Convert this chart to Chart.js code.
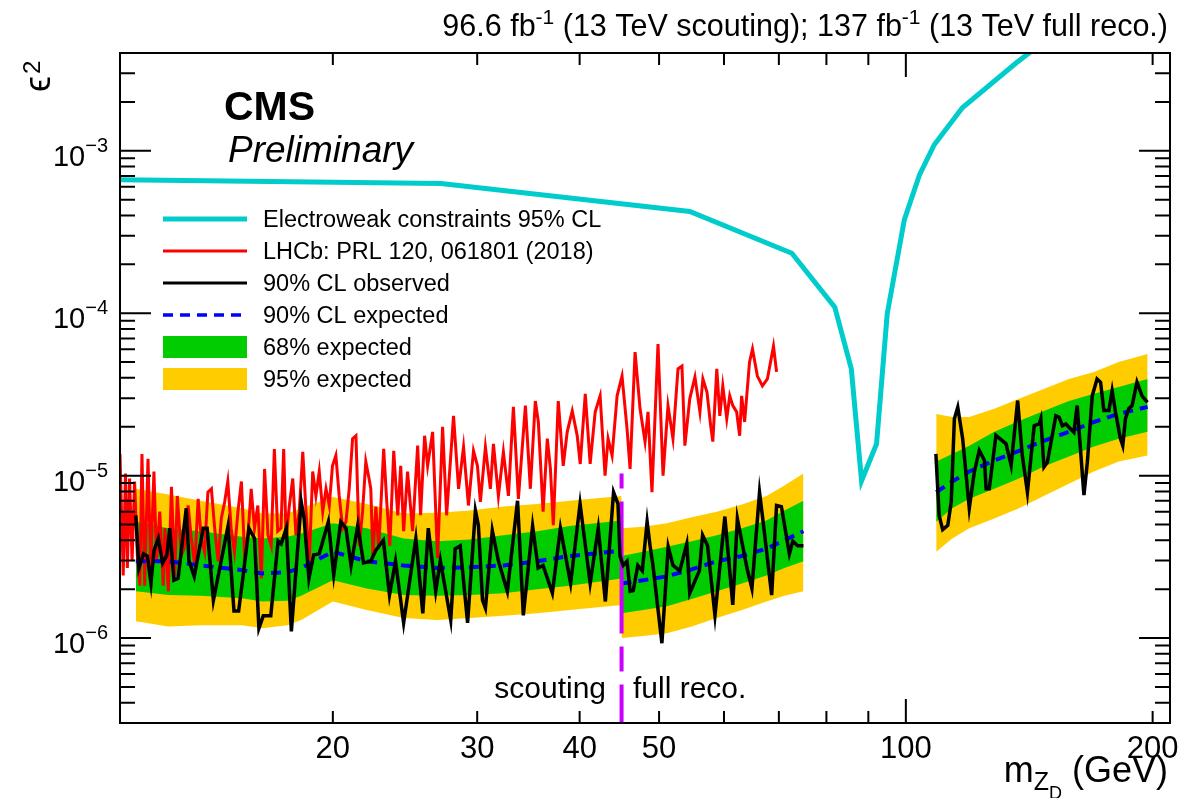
<!DOCTYPE html>
<html>
<head>
<meta charset="utf-8">
<title>Dark photon epsilon^2 limits</title>
<script src="https://cdn.jsdelivr.net/npm/chart.js@4.4.0/dist/chart.umd.min.js"></script>
<style>
html,body{margin:0;padding:0;background:#fff;}
canvas{display:block;}
</style>
</head>
<body>
<canvas id="c" width="1195" height="798"></canvas>
<script>
// axis ranges
const X_MIN = 11, X_MAX = 210, Y_MIN = 3e-7, Y_MAX = 4e-3;

// electroweak constraints 95% CL
const ewMass = [11, 27.1, 54.5, 72.6, 81.9, 85.8, 88.3, 92.1, 94.9, 99.6, 103.9, 108.3, 117.2, 136.3, 141.3, 150];
const ewEps2 = [6.64e-4, 6.28e-4, 4.23e-4, 2.34e-4, 1.09e-4, 4.54e-5, 9.3e-6, 1.57e-5, 9.9e-5, 3.78e-4, 7.1e-4, 1.09e-3, 1.84e-3, 3.47e-3, 4.0e-3, 5.0e-3];

// LHCb PRL 120, 061801
const lhcbMass = [
  11.0, 11.1, 11.17, 11.23, 11.3, 11.38, 11.46, 11.55, 11.63, 11.7,
  11.79, 11.9, 11.99, 12.1, 12.19, 12.3, 12.42, 12.48, 12.6, 12.71,
  12.83, 12.92, 13.07, 13.17, 13.32, 13.44, 13.57, 13.7, 13.82, 13.95,
  14.08, 14.22, 14.35, 14.49, 14.62, 14.76, 14.89, 15.03, 15.17, 15.32,
  15.47, 15.61, 15.76, 15.9, 16.05, 16.2, 16.36, 16.51, 16.67, 16.82,
  16.97, 17.13, 17.29, 17.42, 17.54, 17.7, 17.87, 18.03, 18.2, 18.38,
  18.55, 18.72, 18.9, 19.07, 19.25, 19.44, 19.62, 19.8, 19.98, 20.17,
  20.36, 20.56, 20.75, 20.94, 21.14, 21.34, 21.54, 21.74, 21.94, 22.14,
  22.25, 22.38, 22.57, 22.75, 23.07, 23.27, 23.47, 23.73, 24.0, 24.2,
  24.4, 24.67, 25.02, 25.38, 25.59, 25.88, 26.1, 26.47, 26.84, 27.22,
  27.53, 28.07, 28.47, 28.87, 29.27, 29.69, 30.02, 30.27, 30.7, 31.13,
  31.4, 31.84, 32.29, 32.75, 33.21, 33.68,
  34.35, 34.83, 35.32, 35.62, 36.1, 36.53, 36.85, 37.15, 37.67, 38.2,
  38.63, 39.18, 39.73, 40.07, 40.64, 41.2, 41.79, 42.37, 42.96, 43.33,
  43.82, 44.44, 45.06, 45.7, 46.09, 46.74, 47.4, 48.07, 48.47, 49.01,
  49.85, 50.56, 51.27, 51.99, 52.73, 53.32, 53.76,
  54.5, 55.3, 56.08, 56.55, 57.2, 57.8, 58.15, 58.8, 59.3, 59.8,
  60.47, 60.98, 61.5, 62.17, 62.7, 63.05, 63.58, 64.46, 65.0, 65.9,
  66.84, 67.78, 68.95, 69.55
];
const lhcbEps2 = [
  1.36e-5, 2.43e-6, 1.03e-5, 2.7e-6, 9.6e-6, 2.97e-6, 9.2e-6, 3.23e-6, 2.1e-6, 1.36e-5,
  2.1e-6, 1.27e-5, 2.7e-6, 1.06e-5, 2.97e-6, 6.0e-6, 2.1e-6, 4.75e-6, 1.94e-6, 8.55e-6,
  2.43e-6, 7.5e-6, 3.23e-6, 3.55e-6, 6.55e-6, 4.1e-6, 2.8e-6, 7.2e-6, 4.1e-6, 3.4e-6,
  7.9e-6, 8.3e-6, 4.75e-6, 2.97e-6, 5.45e-6, 6.9e-6, 9.2e-6, 4.75e-6, 3.4e-6, 6.0e-6,
  9.2e-6, 3.23e-6, 4.3e-6, 8.3e-6, 4.75e-6, 6.55e-6, 2.33e-6, 1.1e-5, 4.3e-6, 3.7e-6,
  1.46e-5, 4.55e-6, 4.75e-6, 1.46e-5, 4.1e-6, 6.55e-6, 9.6e-6, 4.3e-6, 6.0e-6, 1.4e-5,
  6.0e-6, 2.97e-6, 1.06e-5, 7.5e-6, 1.06e-5, 6.0e-6, 8.3e-6, 6.55e-6, 1.15e-5, 1.33e-5,
  7.5e-6, 4.75e-6, 5.2e-6, 8.3e-6, 1.69e-5, 1.76e-5, 3.7e-6, 6.0e-6, 1.22e-5, 9.6e-6,
  8.3e-6, 3.23e-6, 6.45e-6, 3.55e-6, 1.46e-5, 6.9e-6, 3.7e-6, 1.42e-5, 5.7e-6, 1.15e-5,
  4.55e-6, 1.06e-5, 4.55e-6, 1.53e-5, 5.7e-6, 1.76e-5, 1.15e-5, 1.86e-5, 3.1e-6, 2.0e-5,
  5.7e-6, 2.33e-5, 8.3e-6, 1.5e-5, 6.55e-6, 1.42e-5, 1.15e-5, 6.9e-6, 1.5e-5, 8.3e-6,
  1.57e-5, 7.5e-6, 1.4e-5, 7.5e-6, 2.65e-5, 7.2e-6,
  2.7e-5, 8.3e-6, 2.88e-5, 2.14e-5, 6.0e-6, 1.69e-5, 1.1e-5, 4.95e-6, 2.88e-5, 1.15e-5,
  1.86e-5, 2.5e-5, 1.76e-5, 1.18e-5, 3.19e-5, 1.18e-5, 2.47e-5, 3.1e-5, 1.0e-5, 1.69e-5,
  1.33e-5, 3.1e-5, 4.1e-5, 1.94e-5, 1.1e-5, 5.76e-5, 2.58e-5, 1.62e-5, 2.47e-5, 7.9e-6,
  6.46e-5, 1.0e-5, 2.7e-5, 1.69e-5, 4.54e-5, 4.73e-5, 1.53e-5,
  2.97e-5, 4.05e-5, 2.47e-5, 3.94e-5, 3.27e-5, 2.03e-5, 1.62e-5, 4.54e-5, 2.33e-5, 3.57e-5,
  2.24e-5, 3.1e-5, 2.7e-5, 2.47e-5, 1.76e-5, 3.1e-5, 2.14e-5, 5.0e-5, 6.02e-5, 4.1e-5,
  3.57e-5, 3.94e-5, 6.27e-5, 4.35e-5
];

// 90% CL observed, scouting + full reco. (low mass)
const obsLowMass = [
  11.5, 11.6, 11.75, 11.88, 12.0, 12.1, 12.25, 12.4, 12.55, 12.65,
  12.8, 12.95, 13.25, 13.35, 13.55, 13.9, 14.05, 14.3, 14.9, 15.15,
  15.35, 15.55, 15.8, 16.05, 16.25, 16.45, 16.8, 17.15, 17.3, 17.55,
  17.8, 18.3, 18.45, 18.7, 18.95, 19.25, 19.75, 20.05, 20.45, 20.75,
  21.05, 21.45, 21.8, 22.25, 22.55, 23.05, 23.45, 23.85, 24.4, 25.25,
  25.75, 26.15, 26.7, 27.05, 27.85, 28.2, 28.6, 29.2, 29.85, 30.1,
  30.45, 30.7, 31.3, 31.85, 32.65, 33.6, 34.15, 35.05, 35.6, 36.1,
  37.05, 37.9, 39.0, 40.05, 41.2, 42.15, 43.0, 44.0, 44.55, 44.8,
  45.2, 45.7, 46.1, 46.5, 47.1, 47.7, 48.35, 48.75, 49.15, 50.4,
  51.3, 52.0, 53.0, 54.05, 54.5, 56.0, 56.5, 57.3, 58.5, 60.15,
  61.5, 62.3, 64.0, 64.9, 66.3, 66.9, 68.6, 69.55, 70.5, 72.1,
  72.8, 73.8, 75
];
const obsLowEps2 = [
  5.7e-6, 2.7e-6, 3.3e-6, 3.2e-6, 2.17e-6, 3.45e-6, 4.1e-6, 2.9e-6, 3.25e-6, 4.75e-6,
  2.27e-6, 2.33e-6, 6.3e-6, 3.0e-6, 2.4e-6, 4.75e-6, 4.75e-6, 1.71e-6, 4.9e-6, 1.47e-6,
  1.47e-6, 2.45e-6, 4.75e-6, 4.1e-6, 1.15e-6, 1.37e-6, 1.37e-6, 3.95e-6, 3.8e-6, 4.75e-6,
  1.1e-6, 6.9e-6, 5.45e-6, 2.33e-6, 3.25e-6, 3.3e-6, 5.2e-6, 2.45e-6, 5.2e-6, 4.75e-6,
  2.8e-6, 4.95e-6, 2.9e-6, 2.97e-6, 3.45e-6, 4.0e-6, 1.84e-6, 2.97e-6, 1.24e-6, 4.1e-6,
  1.42e-6, 4.75e-6, 1.94e-6, 3.0e-6, 1.29e-6, 3.55e-6, 3.7e-6, 1.24e-6, 6.1e-6, 4.95e-6,
  1.71e-6, 1.53e-6, 4.6e-6, 2.97e-6, 1.94e-6, 7.0e-6, 1.38e-6, 4.9e-6, 2.7e-6, 2.8e-6,
  1.89e-6, 4.75e-6, 2.17e-6, 6.7e-6, 2.17e-6, 4.75e-6, 1.68e-6, 7.9e-6, 6.7e-6, 3.2e-6,
  2.8e-6, 2.97e-6, 1.94e-6, 1.96e-6, 2.8e-6, 2.6e-6, 5.2e-6, 3.7e-6, 2.8e-6, 9.3e-7,
  3.65e-6, 2.8e-6, 2.6e-6, 3.8e-6, 1.89e-6, 2.6e-6, 4.3e-6, 3.7e-6, 1.38e-6, 5.6e-6,
  1.6e-6, 5.45e-6, 2.7e-6, 2.02e-6, 7.9e-6, 5.45e-6, 1.84e-6, 6.55e-6, 6.45e-6, 3.3e-6,
  3.95e-6, 3.7e-6, 3.7e-6
];

// 90% CL observed, high mass
const obsHighMass = [
  108.8, 109.8, 110.9, 112.5, 113.6, 114.6, 115.7, 117.3, 119.5, 121.2,
  122.9, 124.7, 125.3, 126.4, 128.8, 132.5, 134.4, 136.9, 138.7, 140.7,
  143.4, 145.4, 146.1, 147.4, 148.8, 152.4, 153.8, 155.2, 156.7, 160.3,
  161.8, 164.9, 166.5, 168.8, 171.1, 172.8, 174.4, 176.9, 178.5, 180.2,
  182.7, 183.9, 185.3, 187.0, 188.8, 191.4, 194.1, 197.1
];
const obsHighEps2 = [
  1.36e-5, 5.7e-6, 4.65e-6, 4.95e-6, 6.9e-6, 2.24e-5, 2.64e-5, 1.69e-5, 6.3e-6, 1.05e-5,
  1.43e-5, 1.24e-5, 8.3e-6, 8.3e-6, 1.77e-5, 1.57e-5, 1.16e-5, 2.9e-5, 1.33e-5, 7.9e-6,
  2.03e-5, 2.08e-5, 2.24e-5, 1.13e-5, 1.21e-5, 2.34e-5, 2.29e-5, 2.03e-5, 2.08e-5, 1.85e-5,
  2.7e-5, 7.6e-6, 1.21e-5, 3.1e-5, 3.94e-5, 3.76e-5, 2.52e-5, 2.52e-5, 3.33e-5, 2.46e-5,
  1.69e-5, 1.53e-5, 2.24e-5, 2.58e-5, 2.7e-5, 3.76e-5, 3.1e-5, 2.83e-5
];

// expected limit and bands: scouting
const scoutMass = [11.5, 12.6, 13.8, 15.5, 16.4, 17.6, 18.3, 20, 22, 24.4, 26.8, 29.4, 32.3, 35.5, 38.9, 45];
const scoutExp  = [2.97e-6, 2.97e-6, 2.8e-6, 2.62e-6, 2.5e-6, 2.55e-6, 2.7e-6, 3.4e-6, 2.97e-6, 2.8e-6, 2.7e-6, 2.73e-6, 2.8e-6, 2.97e-6, 3.2e-6, 3.45e-6];
const scout68Lo = [1.94e-6, 1.84e-6, 1.82e-6, 1.76e-6, 1.68e-6, 1.7e-6, 1.82e-6, 2.27e-6, 2.02e-6, 1.84e-6, 1.82e-6, 1.84e-6, 1.89e-6, 2.0e-6, 2.1e-6, 2.33e-6];
const scout68Hi = [5.2e-6, 4.75e-6, 4.55e-6, 4.2e-6, 4.1e-6, 4.2e-6, 4.4e-6, 5.1e-6, 4.75e-6, 4.1e-6, 3.95e-6, 4.05e-6, 4.3e-6, 4.55e-6, 4.9e-6, 5.3e-6];
const scout95Lo = [1.27e-6, 1.18e-6, 1.2e-6, 1.2e-6, 1.15e-6, 1.2e-6, 1.29e-6, 1.68e-6, 1.49e-6, 1.33e-6, 1.29e-6, 1.33e-6, 1.37e-6, 1.42e-6, 1.49e-6, 1.6e-6];
const scout95Hi = [8.3e-6, 7.65e-6, 7.0e-6, 6.3e-6, 5.85e-6, 5.85e-6, 6.3e-6, 7.4e-6, 6.7e-6, 5.85e-6, 5.9e-6, 6.1e-6, 6.45e-6, 6.7e-6, 7.0e-6, 7.5e-6];

// expected limit and bands: full reco. below the Z
const fullMass = [45, 47.8, 51.1, 54.8, 58.8, 63.1, 67.6, 71.1, 75];
const fullExp  = [2.17e-6, 2.27e-6, 2.4e-6, 2.65e-6, 2.97e-6, 3.2e-6, 3.55e-6, 4.0e-6, 4.55e-6];
const full68Lo = [1.42e-6, 1.49e-6, 1.57e-6, 1.74e-6, 1.94e-6, 2.17e-6, 2.43e-6, 2.7e-6, 2.97e-6];
const full68Hi = [3.2e-6, 3.4e-6, 3.65e-6, 3.95e-6, 4.3e-6, 4.75e-6, 5.3e-6, 6.1e-6, 7.0e-6];
const full95Lo = [1.0e-6, 1.03e-6, 1.07e-6, 1.18e-6, 1.33e-6, 1.49e-6, 1.68e-6, 1.82e-6, 1.94e-6];
const full95Hi = [4.75e-6, 4.85e-6, 5.1e-6, 5.55e-6, 6.0e-6, 6.65e-6, 7.5e-6, 8.7e-6, 1.03e-5];

// expected limit and bands: full reco. above the Z
const highMass = [108.9, 113.9, 119.5, 128.2, 137.4, 147.3, 158.1, 169.6, 181.8, 197.2];
const highExp  = [7.9e-6, 9.2e-6, 1.06e-5, 1.24e-5, 1.42e-5, 1.64e-5, 1.86e-5, 2.14e-5, 2.4e-5, 2.65e-5];
const high68Lo = [5.2e-6, 6.3e-6, 7.2e-6, 8.3e-6, 9.6e-6, 1.14e-5, 1.31e-5, 1.51e-5, 1.69e-5, 1.86e-5];
const high68Hi = [1.22e-5, 1.36e-5, 1.53e-5, 1.86e-5, 2.17e-5, 2.5e-5, 2.88e-5, 3.19e-5, 3.51e-5, 3.94e-5];
const high95Lo = [3.4e-6, 4.1e-6, 4.75e-6, 5.45e-6, 6.3e-6, 7.5e-6, 8.9e-6, 1.06e-5, 1.22e-5, 1.33e-5];
const high95Hi = [2.4e-5, 2.3e-5, 2.3e-5, 2.58e-5, 2.97e-5, 3.42e-5, 3.94e-5, 4.35e-5, 5.0e-5, 5.61e-5];

// scouting / full reco. boundary
const boundaryMass = [45, 45];
const boundaryEps2 = [1.03e-5, 3e-7];

// ticks and labels
const xTickMinor = [20, 30, 40, 50, 60, 70, 80, 90, 200];
const xTickMajor = [100];
const xTickLabels = [20, 30, 40, 50, 100, 200];
const yDecades = [-6, -5, -4, -3];
const legendLabels = ['Electroweak constraints 95% CL', 'LHCb: PRL 120, 061801 (2018)', '90% CL observed', '90% CL expected', '68% expected', '95% expected'];
const regionLabels = ['scouting', 'full reco.'];

const FONT = '"Liberation Sans", Arial, Helvetica, sans-serif';
const CYAN = '#00cccc', RED = '#ff0000', BLUE = '#0000ff', GREEN = '#00cc00', YELLOW = '#ffcc00', MAGENTA = '#cc00ff';

const pts = (xs, ys) => xs.map((m, i) => ({ x: m, y: ys[i] }));
const datasets = [];
function band(xs, lo, hi, color, order) {
  datasets.push({ data: pts(xs, lo), borderWidth: 0, borderColor: 'rgba(0,0,0,0)', pointRadius: 0, fill: false, order });
  datasets.push({ data: pts(xs, hi), borderWidth: 0, borderColor: 'rgba(0,0,0,0)', backgroundColor: color, pointRadius: 0, fill: '-1', order });
}
function line(xs, ys, color, width, order, extra) {
  datasets.push(Object.assign({ data: pts(xs, ys), borderColor: color, borderWidth: width, pointRadius: 0, fill: false, order, clip: 0 }, extra || {}));
}
band(scoutMass, scout95Lo, scout95Hi, YELLOW, 10);
band(fullMass, full95Lo, full95Hi, YELLOW, 10);
band(highMass, high95Lo, high95Hi, YELLOW, 10);
band(scoutMass, scout68Lo, scout68Hi, GREEN, 9);
band(fullMass, full68Lo, full68Hi, GREEN, 9);
band(highMass, high68Lo, high68Hi, GREEN, 9);
line(ewMass, ewEps2, CYAN, 5, 5);
line(lhcbMass, lhcbEps2, RED, 3, 4);
line(scoutMass, scoutExp, BLUE, 4, 3, { borderDash: [10, 7] });
line(fullMass, fullExp, BLUE, 4, 3, { borderDash: [10, 7] });
line(highMass, highExp, BLUE, 4, 3, { borderDash: [10, 7] });
line(boundaryMass, boundaryEps2, MAGENTA, 4, 2, { borderDash: [25, 13, 132, 13], borderDashOffset: 10 });
line(obsLowMass, obsLowEps2, '#000', 3.5, 1);
line(obsHighMass, obsHighEps2, '#000', 3.5, 1);

function rich(ctx, parts, x, y, align) {
  let w = 0;
  parts.forEach(p => { ctx.font = (p[3] || '') + ' ' + p[1] + 'px ' + FONT; w += ctx.measureText(p[0]).width; });
  let cx = align === 'right' ? x - w : (align === 'center' ? x - w / 2 : x);
  ctx.textAlign = 'left';
  ctx.textBaseline = 'alphabetic';
  parts.forEach(p => {
    ctx.font = (p[3] || '') + ' ' + p[1] + 'px ' + FONT;
    ctx.fillText(p[0], cx, y + p[2]);
    cx += ctx.measureText(p[0]).width;
  });
}

const rootFrame = {
  id: 'rootFrame',
  afterDraw(chart) {
    const { ctx, chartArea: a } = chart;
    const xs = chart.scales.x, ys = chart.scales.y;
    ctx.save();
    ctx.strokeStyle = '#000';
    ctx.fillStyle = '#000';
    ctx.lineWidth = 2;
    ctx.setLineDash([]);
    ctx.beginPath();
    const seg = (x1, y1, x2, y2) => { ctx.moveTo(x1, y1); ctx.lineTo(x2, y2); };
    xTickMinor.forEach(v => { const p = xs.getPixelForValue(v); seg(p, a.bottom, p, a.bottom - 12); seg(p, a.top, p, a.top + 12); });
    xTickMajor.forEach(v => { const p = xs.getPixelForValue(v); seg(p, a.bottom, p, a.bottom - 24); seg(p, a.top, p, a.top + 24); });
    yDecades.forEach(e => { const p = ys.getPixelForValue(Math.pow(10, e)); seg(a.left, p, a.left + 31, p); seg(a.right, p, a.right - 31, p); });
    for (let e = -7; e <= -3; e++) {
      for (let m = 2; m <= 9; m++) {
        const v = m * Math.pow(10, e);
        if (v <= Y_MIN * 1.001 || v >= Y_MAX * 0.999) continue;
        const p = ys.getPixelForValue(v);
        seg(a.left, p, a.left + 15, p);
        seg(a.right, p, a.right - 15, p);
      }
    }
    ctx.stroke();
    ctx.strokeRect(a.left, a.top, a.right - a.left, a.bottom - a.top);

    // tick labels
    ctx.font = '31px ' + FONT;
    ctx.textAlign = 'center';
    ctx.textBaseline = 'alphabetic';
    xTickLabels.forEach(v => ctx.fillText(String(v), xs.getPixelForValue(v), 758));
    yDecades.forEach(e => {
      const p = ys.getPixelForValue(Math.pow(10, e));
      rich(ctx, [['10', 29, 0], ['\u2212' + Math.abs(e), 20, -14]], 108, p + 15, 'right');
    });

    // axis titles
    rich(ctx, [['m', 36, 0], ['Z', 25, 8], ['D', 18, 17], [' (GeV)', 36, 0]], 1168, 782, 'right');
    ctx.save();
    ctx.translate(50, 92);
    ctx.rotate(-Math.PI / 2);
    ctx.font = '36px ' + FONT;
    ctx.textAlign = 'left';
    ctx.fillText('\u03f5', 0, 0);
    const ew = ctx.measureText('\u03f5').width;
    ctx.font = '24px ' + FONT;
    ctx.fillText('2', ew + 2, -10);
    ctx.restore();

    // header texts
    rich(ctx, [['96.6 fb', 30.5, 0], ['-1', 21, -12], [' (13 TeV scouting); 137 fb', 30.5, 0], ['-1', 21, -12], [' (13 TeV full reco.)', 30.5, 0]], 1168, 36, 'right');
    ctx.textAlign = 'left';
    ctx.font = 'bold 41px ' + FONT;
    ctx.fillText('CMS', 224, 120);
    ctx.font = 'italic 37px ' + FONT;
    ctx.fillText('Preliminary', 228, 162);

    // region labels
    ctx.font = '30px ' + FONT;
    ctx.textAlign = 'right';
    ctx.fillText(regionLabels[0], 606, 698);
    ctx.textAlign = 'left';
    ctx.fillText(regionLabels[1], 633, 698);

    // legend
    const lx0 = 163, lx1 = 247, ltx = 263;
    const styles = [
      { c: CYAN, w: 5 }, { c: RED, w: 3 }, { c: '#000', w: 3 }, { c: BLUE, w: 3.5, d: [10, 7] },
      { box: GREEN }, { box: YELLOW }
    ];
    legendLabels.forEach((lab, i) => {
      const yy = 219 + i * 32;
      const s = styles[i];
      if (s.box) {
        ctx.fillStyle = s.box;
        ctx.fillRect(lx0, yy - 11, lx1 - lx0, 22);
      } else {
        ctx.strokeStyle = s.c;
        ctx.lineWidth = s.w;
        ctx.setLineDash(s.d || []);
        ctx.beginPath();
        ctx.moveTo(lx0, yy);
        ctx.lineTo(lx1, yy);
        ctx.stroke();
        ctx.setLineDash([]);
      }
      ctx.fillStyle = '#000';
      ctx.font = '23.5px ' + FONT;
      ctx.textAlign = 'left';
      ctx.fillText(lab, ltx, yy + 8);
    });
    ctx.restore();
  }
};

new Chart(document.getElementById('c'), {
  type: 'line',
  data: { datasets },
  options: {
    responsive: false,
    animation: false,
    layout: { padding: { left: 120, top: 53, right: 25, bottom: 75 } },
    scales: {
      x: { type: 'logarithmic', min: X_MIN, max: X_MAX, display: false },
      y: { type: 'logarithmic', min: Y_MIN, max: Y_MAX, display: false }
    },
    elements: { line: { tension: 0 }, point: { radius: 0 } },
    plugins: { legend: { display: false }, tooltip: { enabled: false } }
  },
  plugins: [rootFrame]
});
</script>
</body>
</html>
